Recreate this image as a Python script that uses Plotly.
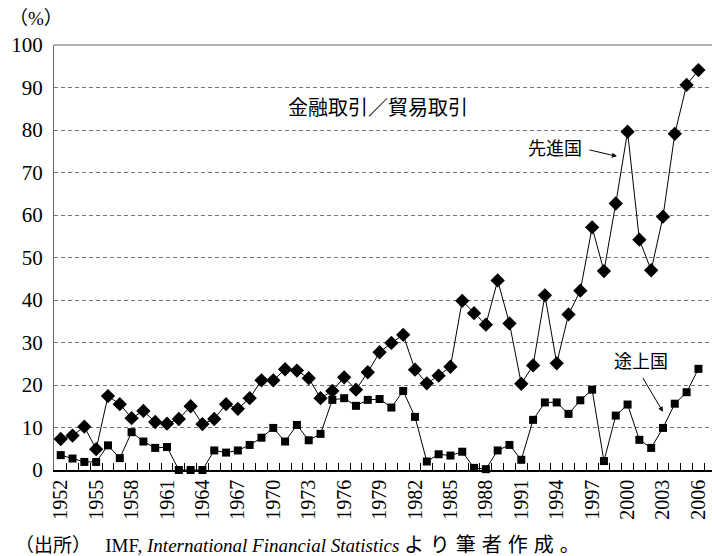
import plotly.graph_objects as go

years = list(range(1952, 2007))
advanced = [7.3, 8.1, 10.2, 4.9, 17.4, 15.5, 12.2, 13.9, 11.3, 10.9,
            12.0, 15.0, 10.8, 12.0, 15.5, 14.4, 16.9, 21.1, 21.1, 23.7,
            23.4, 21.6, 16.9, 18.6, 21.8, 18.9, 23.0, 27.7, 29.9, 31.8,
            23.6, 20.4, 22.2, 24.3, 39.8, 36.9, 34.2, 44.6, 34.5, 20.3,
            24.6, 41.1, 25.1, 36.6, 42.2, 57.1, 46.8, 62.7, 79.6, 54.2,
            47.0, 59.6, 79.1, 90.6, 94.1]
developing = [3.5, 2.7, 1.9, 1.9, 5.8, 2.8, 8.9, 6.7, 5.2, 5.4,
              0.0, 0.0, 0.0, 4.6, 4.1, 4.6, 5.9, 7.6, 9.9, 6.7,
              10.6, 7.0, 8.5, 16.5, 16.9, 15.1, 16.5, 16.7, 14.7, 18.6,
              12.5, 2.0, 3.7, 3.4, 4.3, 0.5, 0.2, 4.6, 5.9, 2.4,
              11.8, 15.9, 15.9, 13.2, 16.4, 18.9, 2.1, 12.8, 15.4, 7.1,
              5.2, 9.9, 15.6, 18.3, 23.8]
x_tick_years = list(range(1952, 2007, 3))
x_tick_labels = [str(y) for y in x_tick_years]
y_ticks = list(range(0, 101, 10))

SERIF = "'Liberation Serif', 'Noto Sans CJK JP', serif"
NUM = "Liberation Serif"

fig = go.Figure()
fig.add_trace(go.Scatter(
    x=years, y=advanced, mode="lines+markers", name="先進国",
    line=dict(color="black", width=1),
    marker=dict(symbol="diamond", size=11, color="black"),
    cliponaxis=False, showlegend=False))
fig.add_trace(go.Scatter(
    x=years, y=developing, mode="lines+markers", name="途上国",
    line=dict(color="black", width=1),
    marker=dict(symbol="square", size=8, color="black"),
    cliponaxis=False, showlegend=False))

fig.update_layout(
    width=712, height=556,
    margin=dict(l=54, r=0, t=45, b=86),
    paper_bgcolor="white", plot_bgcolor="white",
    font=dict(family=SERIF, color="black", size=18),
    xaxis=dict(
        range=[1951.43, 2007.15],
        tickmode="array", tickvals=x_tick_years, ticktext=x_tick_labels,
        tickangle=-90, tickfont=dict(size=20, family=NUM),
        ticks="", showgrid=False, zeroline=False,
        showline=True, linecolor="black", linewidth=1.5,
        minor=dict(tickmode="array",
                   tickvals=[y + 0.5 for y in years],
                   ticks="inside", ticklen=7, tickcolor="black",
                   tickwidth=1, showgrid=False),
    ),
    yaxis=dict(
        range=[0, 100], tickmode="array", tickvals=y_ticks,
        tickfont=dict(size=21, family=NUM),
        ticks="", showgrid=True, gridcolor="#777777", griddash="4px,3px",
        gridwidth=1, zeroline=False,
        showline=True, linecolor="#666666", linewidth=1,
        ticklabelstandoff=6,
    ),
    shapes=[dict(type="line", xref="paper", yref="paper",
                 x0=0, x1=1, y0=1, y1=1,
                 line=dict(color="#666666", width=1.2))],
)

fig.add_annotation(x=1978.9, y=85.1, xref="x", yref="y",
                   text="金融取引／貿易取引", showarrow=False,
                   font=dict(size=20, family=SERIF))
fig.add_annotation(x=1993.85, y=75.6, xref="x", yref="y",
                   text="先進国", showarrow=False,
                   font=dict(size=18, family=SERIF))
fig.add_annotation(x=1999.1, y=73.8, ax=1996.65, ay=75.4,
                   xref="x", yref="y", axref="x", ayref="y",
                   text="", showarrow=True, arrowhead=2, arrowsize=1,
                   arrowwidth=1, arrowcolor="black")
fig.add_annotation(x=2001.14, y=25.3, xref="x", yref="y",
                   text="途上国", showarrow=False,
                   font=dict(size=18, family=SERIF))
fig.add_annotation(x=2003.0, y=13.7, ax=2001.22, ay=22.0,
                   xref="x", yref="y", axref="x", ayref="y",
                   text="", showarrow=True, arrowhead=2, arrowsize=1,
                   arrowwidth=1, arrowcolor="black")
fig.add_annotation(x=-0.0714, y=1.0635, xref="paper", yref="paper",
                   xanchor="left", yanchor="middle",
                   text="（%）", showarrow=False,
                   font=dict(size=19, family=SERIF))
fig.add_annotation(x=-0.063, y=-0.176, xref="paper", yref="paper",
                   xanchor="left", yanchor="middle",
                   text="（出所）   IMF, <i>International Financial Statistics</i> "
                        "<span style=\"font-size:20px;letter-spacing:6px\">より筆者作成。</span>",
                   showarrow=False, font=dict(size=19, family=SERIF))

fig.write_html("out.html",
               config={"displayModeBar": False},
               post_script="document.body.style.margin='0';document.body.style.overflow='hidden';")
